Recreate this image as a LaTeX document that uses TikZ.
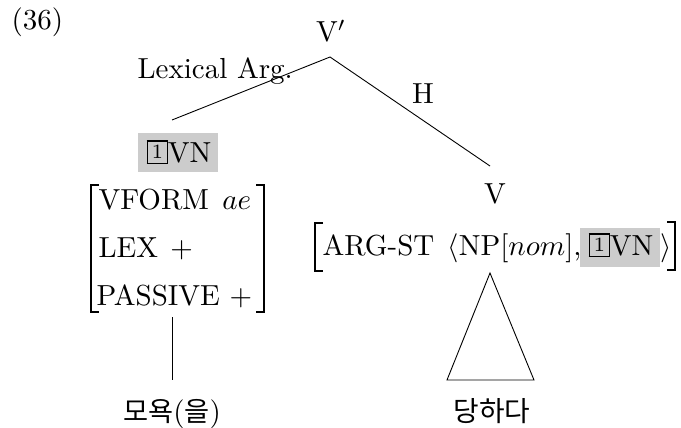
\documentclass[tikz,border=0pt]{standalone}
\usepackage{fontspec}
\newfontfamily\krfont{Noto Sans CJK KR}
\newcommand{\tagone}{\raisebox{1.1pt}{\setlength\fboxsep{1.3pt}\setlength\fboxrule{0.4pt}\fbox{\scriptsize 1}}}
\tikzset{
  txt/.style={inner sep=0pt, anchor=base west, scale=2.9},
  ctxt/.style={inner sep=0pt, anchor=base, scale=2.9},
  edge/.style={line width=0.9pt},
  brk/.style={line width=1.15pt},
  hilite/.style={fill=black!20, draw=none}
}
\begin{document}
\begin{tikzpicture}[x=1pt,y=-1pt,font=\fontsize{10}{12}\selectfont]
\useasboundingbox (0,0) rectangle (681,428);
% example number
\node[txt] (num) at (11,30) {(36)};
% mother
\node[ctxt] (top) at (331,42) {$\mathrm{V}'$};
\coordinate (apex) at (330,57);
% edge labels
\node[txt] (lexarg) at (137,79) {Lexical Arg.};
\node[ctxt] (hlab) at (423,103) {H};
% left daughter
\fill[hilite] (138,133) rectangle (218,172);
\node[txt] (lvn) at (146,162) {\tagone VN};
\coordinate (lend) at (172,120);
% left AVM
\node[txt] (r1) at (98,209) {VFORM\hspace{4.6pt}$ae$};
\node[txt] (r2) at (98,257) {LEX\hspace{4.2pt}$+$};
\node[txt] (r3) at (96,305) {PASSIVE $+$};
\draw[brk] (99,185) -- (91,185) -- (91,312) -- (99,312);
\draw[brk] (256,185) -- (264,185) -- (264,312) -- (256,312);
\coordinate (lstem) at (172,317);
\coordinate (lleaf) at (172,380);
\node[ctxt] (leafl) at (172,421) {{\fontsize{9.4}{10}\krfont 모욕}({\fontsize{9.4}{10}\krfont 을})};
% right daughter
\node[ctxt] (rv) at (495,203) {V};
\coordinate (rend) at (490,166);
\node[txt] (argst) at (322,255) {ARG-ST};
\node[txt] (np) at (447,255) {$\langle$NP[$nom$],};
\fill[hilite] (580,228) rectangle (660,267);
\node[txt] (rvn) at (588,255) {\tagone VN};
\node[txt] (rang) at (660,255) {$\rangle$};
\draw[brk] (323,223) -- (315,223) -- (315,271) -- (323,271);
\draw[brk] (667,222) -- (675,222) -- (675,270) -- (667,270);
\coordinate (tri) at (490,273);
\coordinate (tril) at (447,380);
\coordinate (trir) at (534,380);
\node[ctxt] (leafr) at (492,421) {\fontsize{9.6}{10}\krfont 당하다};
% edges
\draw[edge] (lend) -- (apex) -- (rend);
\draw[edge] (lstem) -- (lleaf);
\draw[edge] (tri) -- (tril) -- (trir) -- cycle;
\end{tikzpicture}
\end{document}
